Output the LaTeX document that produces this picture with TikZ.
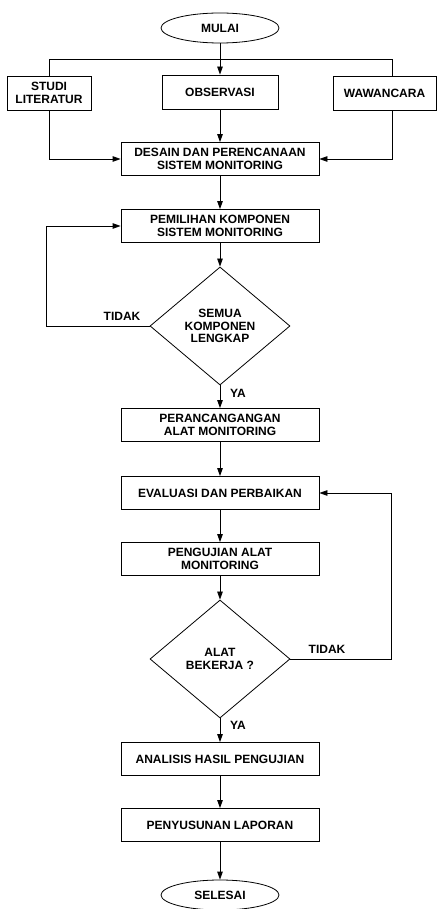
\documentclass[tikz,border=0pt]{standalone}
\usepackage{fontspec}
\setmainfont{Liberation Sans}
\usetikzlibrary{shapes.geometric,arrows.meta}

\tikzset{
  proses/.style={draw, minimum width=198pt, minimum height=33pt, align=center, inner sep=2pt},
  terminal/.style={draw, ellipse, minimum width=118pt, minimum height=30pt, inner sep=0pt},
  keputusan/.style={draw, diamond, minimum width=140pt, minimum height=118pt, align=center, inner sep=0pt}
}

\begin{document}
\begin{tikzpicture}[x=1pt, y=-1pt, line width=0.8pt,
    font=\fontsize{12}{12.5}\selectfont\bfseries,
    >={Triangle[length=8pt,width=5.5pt]}]
    \useasboundingbox (0,0) rectangle (437,909);

    \node[terminal] (mulai) at (220,28) {MULAI};
    \node[proses, minimum width=84pt, minimum height=34pt] (studi) at (49,93) {STUDI\\LITERATUR};
    \node[proses, minimum width=116pt, minimum height=34pt] (observasi) at (220,92) {OBSERVASI};
    \node[proses, minimum width=103pt, minimum height=34pt] (wawancara) at (384.5,93) {WAWANCARA};
    \node[proses] (desain) at (220,159) {DESAIN DAN PERENCANAAN\\SISTEM MONITORING};
    \node[proses] (pemilihan) at (220,226) {PEMILIHAN KOMPONEN\\SISTEM MONITORING};
    \node[keputusan] (lengkap) at (220,326) {SEMUA\\KOMPONEN\\LENGKAP};
    \node[proses] (perancangan) at (220,425) {PERANCANGANGAN\\ALAT MONITORING};
    \node[proses] (evaluasi) at (220,493) {EVALUASI DAN PERBAIKAN};
    \node[proses] (pengujian) at (220,559) {PENGUJIAN ALAT\\MONITORING};
    \node[keputusan] (bekerja) at (220,659) {ALAT\\BEKERJA ?};
    \node[proses] (analisis) at (220,759) {ANALISIS HASIL PENGUJIAN};
    \node[proses] (laporan) at (220,825) {PENYUSUNAN LAPORAN};
    \node[terminal] (selesai) at (220,895) {SELESAI};

    \node (tidak1) at (122,316) {TIDAK};
    \node (tidak2) at (327,649) {TIDAK};
    \node (ya1) at (238,393) {YA};
    \node (ya2) at (238,725) {YA};

    \coordinate (bus) at (0,59);
    \coordinate (wline) at (392,0);
    \coordinate (kiri) at (46,0);
    \coordinate (kanan) at (391,0);

    \draw[->] (mulai) -- (observasi);
    \draw[->] (observasi) -- (desain);
    \draw[->] (desain) -- (pemilihan);
    \draw[->] (pemilihan) -- (lengkap);
    \draw[->] (lengkap) -- (perancangan);
    \draw[->] (perancangan) -- (evaluasi);
    \draw[->] (evaluasi) -- (pengujian);
    \draw[->] (pengujian) -- (bekerja);
    \draw[->] (bekerja) -- (analisis);
    \draw[->] (analisis) -- (laporan);
    \draw[->] (laporan) -- (selesai);

    \draw (studi.north) |- (wline |- bus) -- (wline |- wawancara.north);
    \draw[->] (studi.south) |- (desain.west);
    \draw[->] (wline |- wawancara.south) |- (desain.east);

    \draw[->] (lengkap.west) -- (kiri |- lengkap.west) |- (pemilihan.west);
    \draw[->] (bekerja.east) -- (kanan |- bekerja.east) |- (evaluasi.east);
  \end{tikzpicture}
\end{document}
